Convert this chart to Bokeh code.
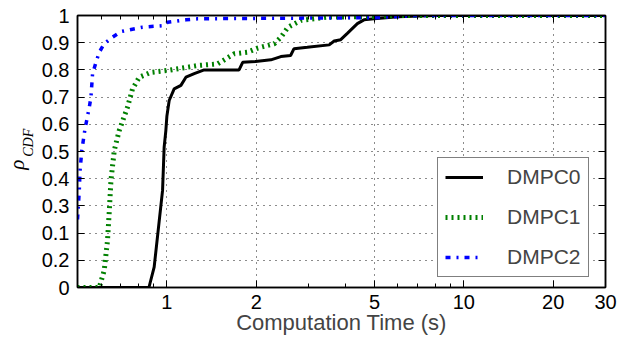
import math
from bokeh.plotting import figure
from bokeh.models import (Range1d, FixedTicker, LogAxis, LinearAxis, Legend,
                          LegendItem, CustomJSTickFormatter)
from bokeh.embed import file_html
from bokeh.resources import INLINE

# ---- data ----
x_ticks = [1, 2, 5, 10, 20, 30]
x_minor_ticks = [0.6, 0.7, 0.8, 0.9, 3, 4, 6, 7, 8, 9]
y_ticks = [0, 0.1, 0.2, 0.3, 0.4, 0.5, 0.6, 0.7, 0.8, 0.9, 1]
y_tick_labels = ["0", "0.2", "0.1", "0.3", "0.4", "0.5", "0.6", "0.7", "0.8", "0.9", "1"]

dmpc0_t = [0.5, 0.87, 0.906, 0.967, 0.979, 0.992, 1.0, 1.018, 1.058, 1.115, 1.159, 1.236,
           1.335, 1.75, 1.80, 1.99, 2.24, 2.42, 2.61, 2.68, 2.97, 3.52, 3.66, 3.85, 4.06,
           4.38, 4.61, 4.98, 6.0, 8.0, 30]
dmpc0_p = [0, 0, 0.075, 0.357, 0.516, 0.577, 0.63, 0.6875, 0.73, 0.743, 0.773, 0.786,
           0.80, 0.80, 0.828, 0.831, 0.837, 0.849, 0.853, 0.878, 0.883, 0.892, 0.906, 0.911,
           0.935, 0.97, 0.984, 0.988, 0.995, 1.0, 1.0]

dmpc1_t = [0.5, 0.592, 0.615, 0.631, 0.64, 0.648, 0.665, 0.691, 0.737, 0.766, 0.807, 0.883,
           1.005, 1.27, 1.48, 1.685, 1.87, 2.02, 2.3, 2.42, 2.55, 2.62, 2.83, 3.47, 4.74,
           6.0, 30]
dmpc1_p = [0, 0, 0.0625, 0.173, 0.283, 0.393, 0.504, 0.577, 0.663, 0.73, 0.773, 0.791,
           0.798, 0.816, 0.822, 0.859, 0.865, 0.88, 0.896, 0.92, 0.955, 0.963, 0.982, 0.994,
           0.996, 1.0, 1.0]

dmpc2_t = [0.5, 0.507, 0.51, 0.517, 0.53, 0.548, 0.555, 0.562, 0.577, 0.592, 0.615, 0.656,
           0.70, 0.828, 0.979, 1.005, 1.16, 1.27, 5.0, 7.0, 30]
dmpc2_p = [0.25, 0.357, 0.43, 0.504, 0.583, 0.663, 0.70, 0.786, 0.828, 0.865, 0.896, 0.92,
           0.941, 0.957, 0.963, 0.975, 0.984, 0.988, 0.992, 1.0, 1.0]

series_names = ["DMPC0", "DMPC1", "DMPC2"]

FONT = "Liberation Sans"
NB = "\u00a0"

p = figure(width=622, height=340, x_axis_type="log",
           x_range=Range1d(0.5, 30), y_range=Range1d(0, 1),
           output_backend="svg", toolbar_location=None,
           min_border_left=77, min_border_right=17, min_border_top=15,
           min_border_bottom=53)
p.background_fill_color = "white"
p.border_fill_color = "white"
p.outline_line_color = "black"
p.outline_line_width = 1.5

xt = FixedTicker(ticks=x_ticks, minor_ticks=x_minor_ticks)
yt = FixedTicker(ticks=y_ticks, minor_ticks=[])
blank = CustomJSTickFormatter(code="return '';")

def style_axis(ax, labels=True, standoff=7):
    ax.axis_line_color = "black"
    ax.axis_line_width = 1.5
    ax.major_tick_in = 7
    ax.major_tick_out = 0
    ax.minor_tick_in = 4
    ax.minor_tick_out = 0
    ax.major_tick_line_color = "black"
    ax.minor_tick_line_color = "black"
    ax.major_tick_line_width = 1
    ax.minor_tick_line_width = 1
    ax.major_label_text_font = FONT
    ax.major_label_text_font_size = "20px"
    ax.major_label_text_color = "black"
    ax.major_label_standoff = standoff if labels else 0
    if not labels:
        ax.formatter = blank

xa = p.xaxis[0]
xa.ticker = xt
xa.formatter = CustomJSTickFormatter(code="return String(tick);")
style_axis(xa)
xa.axis_label = "Computation Time (s)"
xa.axis_label_text_font = FONT
xa.axis_label_text_font_size = "22px"
xa.axis_label_text_font_style = "normal"
xa.axis_label_standoff = -2

ya = p.yaxis[0]
ya.ticker = yt
ya.formatter = CustomJSTickFormatter(args=dict(labels=y_tick_labels),
                                     code="return labels[Math.round(tick * 10)];")
style_axis(ya, standoff=8)

top = LogAxis(ticker=xt)
style_axis(top, labels=False)
p.add_layout(top, "above")
right = LinearAxis(ticker=yt)
style_axis(right, labels=False)
p.add_layout(right, "right")

# y-axis title  rho_CDF  built from two label-only axes
def label_axis(text, size, standoff):
    ax = LinearAxis(ticker=FixedTicker(ticks=[]))
    ax.axis_line_color = None
    ax.major_tick_line_color = None
    ax.minor_tick_line_color = None
    ax.major_label_standoff = 0
    ax.axis_label = text
    ax.axis_label_text_font = "Liberation Serif"
    ax.axis_label_text_font_style = "italic"
    ax.axis_label_text_font_size = size
    ax.axis_label_text_color = "black"
    ax.axis_label_standoff = standoff
    return ax

p.add_layout(label_axis(NB * 5 + "CDF", "14px", 3), "left")
p.add_layout(label_axis("ρ" + NB * 5, "21px", -11), "left")

for g in (p.xgrid[0], p.ygrid[0]):
    g.grid_line_color = "black"
    g.grid_line_width = 1
    g.grid_line_dash = "1 5"
    g.grid_line_alpha = 0.9
p.xgrid[0].ticker = xt
p.ygrid[0].ticker = yt

r0 = p.line(dmpc0_t, dmpc0_p, line_color="black", line_width=3)
r1 = p.line(dmpc1_t, dmpc1_p, line_color="#008000", line_width=5, line_dash="2 4")
r2 = p.line(dmpc2_t, dmpc2_p, line_color="#0000ff", line_width=3.5, line_dash="5 6 2 6")

legend = Legend(items=[LegendItem(label=series_names[0], renderers=[r0]),
                       LegendItem(label=series_names[1], renderers=[r1]),
                       LegendItem(label=series_names[2], renderers=[r2])],
                location=(360, 10))
legend.label_text_font = FONT
legend.label_text_font_size = "21px"
legend.border_line_color = "black"
legend.border_line_width = 1.5
legend.background_fill_alpha = 1
legend.padding = 7
legend.spacing = 16
legend.label_height = 24
legend.glyph_height = 24
legend.glyph_width = 38
legend.label_standoff = 24
legend.margin = 0
p.add_layout(legend, "center")

open("out.html", "w").write(file_html(p, INLINE))
